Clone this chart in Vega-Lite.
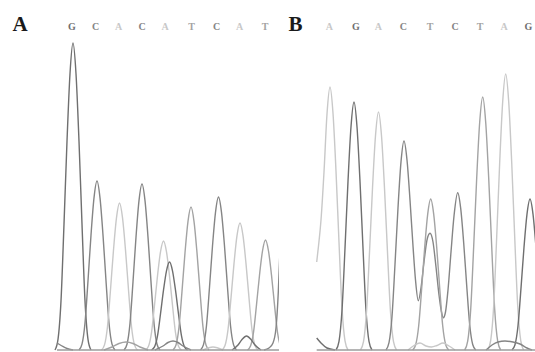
{
  "$schema": "https://vega.github.io/schema/vega-lite/v6.json",
  "padding": 0,
  "spacing": 0,
  "background": "white",
  "config": {"view": {"stroke": null}},
  "datasets": {
    "traceA": [
      {"trace":"a1","base":"G","scan":55,"rfu":0},{"trace":"a1","base":"G","scan":58,"rfu":10.7},{"trace":"a1","base":"G","scan":61,"rfu":49.1},{"trace":"a1","base":"G","scan":64,"rfu":125.9},{"trace":"a1","base":"G","scan":67,"rfu":208.8},{"trace":"a1","base":"G","scan":70,"rfu":276.3},{"trace":"a1","base":"G","scan":73,"rfu":307},{"trace":"a1","base":"G","scan":76,"rfu":276.3},{"trace":"a1","base":"G","scan":79,"rfu":208.8},{"trace":"a1","base":"G","scan":82,"rfu":125.9},{"trace":"a1","base":"G","scan":85,"rfu":49.1},{"trace":"a1","base":"G","scan":88,"rfu":10.7},{"trace":"a1","base":"G","scan":91,"rfu":0},
      {"trace":"a2","base":"C","scan":79,"rfu":0},{"trace":"a2","base":"C","scan":82,"rfu":5.9},{"trace":"a2","base":"C","scan":85,"rfu":27},{"trace":"a2","base":"C","scan":88,"rfu":69.3},{"trace":"a2","base":"C","scan":91,"rfu":114.9},{"trace":"a2","base":"C","scan":94,"rfu":152.1},{"trace":"a2","base":"C","scan":97,"rfu":169},{"trace":"a2","base":"C","scan":100,"rfu":152.1},{"trace":"a2","base":"C","scan":103,"rfu":114.9},{"trace":"a2","base":"C","scan":106,"rfu":69.3},{"trace":"a2","base":"C","scan":109,"rfu":27},{"trace":"a2","base":"C","scan":112,"rfu":5.9},{"trace":"a2","base":"C","scan":115,"rfu":0},
      {"trace":"a3","base":"A","scan":101.5,"rfu":0},{"trace":"a3","base":"A","scan":104.5,"rfu":5.1},{"trace":"a3","base":"A","scan":107.5,"rfu":23.5},{"trace":"a3","base":"A","scan":110.5,"rfu":60.3},{"trace":"a3","base":"A","scan":113.5,"rfu":100},{"trace":"a3","base":"A","scan":116.5,"rfu":132.3},{"trace":"a3","base":"A","scan":119.5,"rfu":147},{"trace":"a3","base":"A","scan":122.5,"rfu":132.3},{"trace":"a3","base":"A","scan":125.5,"rfu":100},{"trace":"a3","base":"A","scan":128.5,"rfu":60.3},{"trace":"a3","base":"A","scan":131.5,"rfu":23.5},{"trace":"a3","base":"A","scan":134.5,"rfu":5.1},{"trace":"a3","base":"A","scan":137.5,"rfu":0},
      {"trace":"a4","base":"C","scan":124,"rfu":0},{"trace":"a4","base":"C","scan":127,"rfu":5.8},{"trace":"a4","base":"C","scan":130,"rfu":26.6},{"trace":"a4","base":"C","scan":133,"rfu":68.1},{"trace":"a4","base":"C","scan":136,"rfu":112.9},{"trace":"a4","base":"C","scan":139,"rfu":149.4},{"trace":"a4","base":"C","scan":142,"rfu":166},{"trace":"a4","base":"C","scan":145,"rfu":149.4},{"trace":"a4","base":"C","scan":148,"rfu":112.9},{"trace":"a4","base":"C","scan":151,"rfu":68.1},{"trace":"a4","base":"C","scan":154,"rfu":26.6},{"trace":"a4","base":"C","scan":157,"rfu":5.8},{"trace":"a4","base":"C","scan":160,"rfu":0},
      {"trace":"a5","base":"A","scan":145.5,"rfu":0},{"trace":"a5","base":"A","scan":148.5,"rfu":3.8},{"trace":"a5","base":"A","scan":151.5,"rfu":17.4},{"trace":"a5","base":"A","scan":154.5,"rfu":44.7},{"trace":"a5","base":"A","scan":157.5,"rfu":74.1},{"trace":"a5","base":"A","scan":160.5,"rfu":98.1},{"trace":"a5","base":"A","scan":163.5,"rfu":109},{"trace":"a5","base":"A","scan":166.5,"rfu":98.1},{"trace":"a5","base":"A","scan":169.5,"rfu":74.1},{"trace":"a5","base":"A","scan":172.5,"rfu":44.7},{"trace":"a5","base":"A","scan":175.5,"rfu":17.4},{"trace":"a5","base":"A","scan":178.5,"rfu":3.8},{"trace":"a5","base":"A","scan":181.5,"rfu":0},
      {"trace":"a5b","base":"G","scan":151.5,"rfu":0},{"trace":"a5b","base":"G","scan":154.5,"rfu":3.1},{"trace":"a5b","base":"G","scan":157.5,"rfu":14.1},{"trace":"a5b","base":"G","scan":160.5,"rfu":36.1},{"trace":"a5b","base":"G","scan":163.5,"rfu":59.8},{"trace":"a5b","base":"G","scan":166.5,"rfu":79.2},{"trace":"a5b","base":"G","scan":169.5,"rfu":88},{"trace":"a5b","base":"G","scan":172.5,"rfu":79.2},{"trace":"a5b","base":"G","scan":175.5,"rfu":59.8},{"trace":"a5b","base":"G","scan":178.5,"rfu":36.1},{"trace":"a5b","base":"G","scan":181.5,"rfu":14.1},{"trace":"a5b","base":"G","scan":184.5,"rfu":3.1},{"trace":"a5b","base":"G","scan":187.5,"rfu":0},
      {"trace":"a6","base":"T","scan":173,"rfu":0},{"trace":"a6","base":"T","scan":176,"rfu":5},{"trace":"a6","base":"T","scan":179,"rfu":22.9},{"trace":"a6","base":"T","scan":182,"rfu":58.6},{"trace":"a6","base":"T","scan":185,"rfu":97.2},{"trace":"a6","base":"T","scan":188,"rfu":128.7},{"trace":"a6","base":"T","scan":191,"rfu":143},{"trace":"a6","base":"T","scan":194,"rfu":128.7},{"trace":"a6","base":"T","scan":197,"rfu":97.2},{"trace":"a6","base":"T","scan":200,"rfu":58.6},{"trace":"a6","base":"T","scan":203,"rfu":22.9},{"trace":"a6","base":"T","scan":206,"rfu":5},{"trace":"a6","base":"T","scan":209,"rfu":0},
      {"trace":"a7","base":"C","scan":200.5,"rfu":0},{"trace":"a7","base":"C","scan":203.5,"rfu":5.4},{"trace":"a7","base":"C","scan":206.5,"rfu":24.5},{"trace":"a7","base":"C","scan":209.5,"rfu":62.7},{"trace":"a7","base":"C","scan":212.5,"rfu":104},{"trace":"a7","base":"C","scan":215.5,"rfu":137.7},{"trace":"a7","base":"C","scan":218.5,"rfu":153},{"trace":"a7","base":"C","scan":221.5,"rfu":137.7},{"trace":"a7","base":"C","scan":224.5,"rfu":104},{"trace":"a7","base":"C","scan":227.5,"rfu":62.7},{"trace":"a7","base":"C","scan":230.5,"rfu":24.5},{"trace":"a7","base":"C","scan":233.5,"rfu":5.4},{"trace":"a7","base":"C","scan":236.5,"rfu":0},
      {"trace":"a8","base":"A","scan":222,"rfu":0},{"trace":"a8","base":"A","scan":225,"rfu":4.4},{"trace":"a8","base":"A","scan":228,"rfu":20.3},{"trace":"a8","base":"A","scan":231,"rfu":52.1},{"trace":"a8","base":"A","scan":234,"rfu":86.4},{"trace":"a8","base":"A","scan":237,"rfu":114.3},{"trace":"a8","base":"A","scan":240,"rfu":127},{"trace":"a8","base":"A","scan":243,"rfu":114.3},{"trace":"a8","base":"A","scan":246,"rfu":86.4},{"trace":"a8","base":"A","scan":249,"rfu":52.1},{"trace":"a8","base":"A","scan":252,"rfu":20.3},{"trace":"a8","base":"A","scan":255,"rfu":4.4},{"trace":"a8","base":"A","scan":258,"rfu":0},
      {"trace":"a9","base":"T","scan":247.5,"rfu":0},{"trace":"a9","base":"T","scan":250.5,"rfu":3.9},{"trace":"a9","base":"T","scan":253.5,"rfu":17.6},{"trace":"a9","base":"T","scan":256.5,"rfu":45.1},{"trace":"a9","base":"T","scan":259.5,"rfu":74.8},{"trace":"a9","base":"T","scan":262.5,"rfu":99},{"trace":"a9","base":"T","scan":265.5,"rfu":110},{"trace":"a9","base":"T","scan":268.5,"rfu":99},{"trace":"a9","base":"T","scan":271.5,"rfu":74.8},{"trace":"a9","base":"T","scan":274.5,"rfu":45.1},{"trace":"a9","base":"T","scan":277.5,"rfu":17.6},{"trace":"a9","base":"T","scan":280.5,"rfu":3.9},{"trace":"a9","base":"T","scan":283.5,"rfu":0},
      {"trace":"a10","base":"C","scan":264,"rfu":0},{"trace":"a10","base":"C","scan":269,"rfu":2},{"trace":"a10","base":"C","scan":273,"rfu":7},{"trace":"a10","base":"C","scan":276,"rfu":22},{"trace":"a10","base":"C","scan":278.3,"rfu":58},{"trace":"a10","base":"C","scan":280,"rfu":100},
      {"trace":"ab1","base":"C","scan":57,"rfu":7},{"trace":"ab1","base":"C","scan":62,"rfu":4},{"trace":"ab1","base":"C","scan":67,"rfu":1.5},{"trace":"ab1","base":"C","scan":73,"rfu":0},
      {"trace":"ab2","base":"T","scan":104,"rfu":0},{"trace":"ab2","base":"T","scan":112,"rfu":3},{"trace":"ab2","base":"T","scan":119,"rfu":6.5},{"trace":"ab2","base":"T","scan":126,"rfu":8},{"trace":"ab2","base":"T","scan":133,"rfu":6.5},{"trace":"ab2","base":"T","scan":140,"rfu":3},{"trace":"ab2","base":"T","scan":148,"rfu":0},
      {"trace":"ab3","base":"C","scan":155,"rfu":0},{"trace":"ab3","base":"C","scan":163,"rfu":4},{"trace":"ab3","base":"C","scan":168,"rfu":7.5},{"trace":"ab3","base":"C","scan":173,"rfu":9},{"trace":"ab3","base":"C","scan":178,"rfu":7.5},{"trace":"ab3","base":"C","scan":183,"rfu":4},{"trace":"ab3","base":"C","scan":191,"rfu":0},
      {"trace":"ab4","base":"G","scan":232,"rfu":0},{"trace":"ab4","base":"G","scan":238,"rfu":5},{"trace":"ab4","base":"G","scan":242,"rfu":10.5},{"trace":"ab4","base":"G","scan":246.5,"rfu":14},{"trace":"ab4","base":"G","scan":251,"rfu":10.5},{"trace":"ab4","base":"G","scan":255,"rfu":5},{"trace":"ab4","base":"G","scan":261,"rfu":0},
      {"trace":"ab5","base":"A","scan":203,"rfu":0},{"trace":"ab5","base":"A","scan":213,"rfu":3},{"trace":"ab5","base":"A","scan":223,"rfu":0},
      {"trace":"abl","base":"N","scan":57,"rfu":0},{"trace":"abl","base":"N","scan":279,"rfu":0}
    ],
    "traceB": [
      {"trace":"b0","base":"G","scan":37.7,"rfu":12},{"trace":"b0","base":"G","scan":42,"rfu":7},{"trace":"b0","base":"G","scan":48,"rfu":2},{"trace":"b0","base":"G","scan":56,"rfu":0},
      {"trace":"b1","base":"A","scan":37.7,"rfu":88},{"trace":"b1","base":"A","scan":39.5,"rfu":104},{"trace":"b1","base":"A","scan":42,"rfu":130},{"trace":"b1","base":"A","scan":45,"rfu":178},{"trace":"b1","base":"A","scan":48,"rfu":236},{"trace":"b1","base":"A","scan":51,"rfu":263},{"trace":"b1","base":"A","scan":54,"rfu":236.7},{"trace":"b1","base":"A","scan":57,"rfu":178.8},{"trace":"b1","base":"A","scan":60,"rfu":107.8},{"trace":"b1","base":"A","scan":63,"rfu":42.1},{"trace":"b1","base":"A","scan":66,"rfu":9.2},{"trace":"b1","base":"A","scan":69,"rfu":0},
      {"trace":"b2","base":"G","scan":57,"rfu":0},{"trace":"b2","base":"G","scan":60,"rfu":8.7},{"trace":"b2","base":"G","scan":63,"rfu":39.7},{"trace":"b2","base":"G","scan":66,"rfu":101.7},{"trace":"b2","base":"G","scan":69,"rfu":168.6},{"trace":"b2","base":"G","scan":72,"rfu":223.2},{"trace":"b2","base":"G","scan":75,"rfu":248},{"trace":"b2","base":"G","scan":78,"rfu":223.2},{"trace":"b2","base":"G","scan":81,"rfu":168.6},{"trace":"b2","base":"G","scan":84,"rfu":101.7},{"trace":"b2","base":"G","scan":87,"rfu":39.7},{"trace":"b2","base":"G","scan":90,"rfu":8.7},{"trace":"b2","base":"G","scan":93,"rfu":0},
      {"trace":"b3","base":"A","scan":81.5,"rfu":0},{"trace":"b3","base":"A","scan":84.5,"rfu":8.3},{"trace":"b3","base":"A","scan":87.5,"rfu":38.1},{"trace":"b3","base":"A","scan":90.5,"rfu":97.6},{"trace":"b3","base":"A","scan":93.5,"rfu":161.8},{"trace":"b3","base":"A","scan":96.5,"rfu":214.2},{"trace":"b3","base":"A","scan":99.5,"rfu":238},{"trace":"b3","base":"A","scan":102.5,"rfu":214.2},{"trace":"b3","base":"A","scan":105.5,"rfu":161.8},{"trace":"b3","base":"A","scan":108.5,"rfu":97.6},{"trace":"b3","base":"A","scan":111.5,"rfu":38.1},{"trace":"b3","base":"A","scan":114.5,"rfu":8.3},{"trace":"b3","base":"A","scan":117.5,"rfu":0},
      {"trace":"b4","base":"C","scan":107,"rfu":0},{"trace":"b4","base":"C","scan":110,"rfu":7.3},{"trace":"b4","base":"C","scan":113,"rfu":33.4},{"trace":"b4","base":"C","scan":116,"rfu":85.7},{"trace":"b4","base":"C","scan":119,"rfu":142.1},{"trace":"b4","base":"C","scan":122,"rfu":188.1},{"trace":"b4","base":"C","scan":125,"rfu":209},{"trace":"b4","base":"C","scan":128,"rfu":190},{"trace":"b4","base":"C","scan":131,"rfu":150},{"trace":"b4","base":"C","scan":134,"rfu":104},{"trace":"b4","base":"C","scan":136.5,"rfu":70},{"trace":"b4","base":"C","scan":139.3,"rfu":49.3},{"trace":"b4","base":"C","scan":142,"rfu":62},{"trace":"b4","base":"C","scan":145,"rfu":88},{"trace":"b4","base":"C","scan":148,"rfu":110},{"trace":"b4","base":"C","scan":151,"rfu":116.7},{"trace":"b4","base":"C","scan":154,"rfu":108},{"trace":"b4","base":"C","scan":157,"rfu":83},{"trace":"b4","base":"C","scan":160,"rfu":55},{"trace":"b4","base":"C","scan":162.5,"rfu":38},{"trace":"b4","base":"C","scan":164.3,"rfu":32.3},{"trace":"b4","base":"C","scan":166.5,"rfu":38},{"trace":"b4","base":"C","scan":169,"rfu":60},{"trace":"b4","base":"C","scan":172,"rfu":98},{"trace":"b4","base":"C","scan":175,"rfu":134},{"trace":"b4","base":"C","scan":178.7,"rfu":157.3},{"trace":"b4","base":"C","scan":181.7,"rfu":141.6},{"trace":"b4","base":"C","scan":184.7,"rfu":107},{"trace":"b4","base":"C","scan":187.7,"rfu":64.5},{"trace":"b4","base":"C","scan":190.7,"rfu":25.2},{"trace":"b4","base":"C","scan":193.7,"rfu":5.5},{"trace":"b4","base":"C","scan":196.7,"rfu":0},
      {"trace":"b5","base":"T","scan":133.7,"rfu":0},{"trace":"b5","base":"T","scan":136.7,"rfu":5.3},{"trace":"b5","base":"T","scan":139.7,"rfu":24.2},{"trace":"b5","base":"T","scan":142.7,"rfu":61.9},{"trace":"b5","base":"T","scan":145.7,"rfu":102.7},{"trace":"b5","base":"T","scan":148.7,"rfu":135.9},{"trace":"b5","base":"T","scan":151.7,"rfu":151},{"trace":"b5","base":"T","scan":154.7,"rfu":135.9},{"trace":"b5","base":"T","scan":157.7,"rfu":102.7},{"trace":"b5","base":"T","scan":160.7,"rfu":61.9},{"trace":"b5","base":"T","scan":163.7,"rfu":24.2},{"trace":"b5","base":"T","scan":166.7,"rfu":5.3},{"trace":"b5","base":"T","scan":169.7,"rfu":0},
      {"trace":"b7","base":"T","scan":185.7,"rfu":0},{"trace":"b7","base":"T","scan":188.7,"rfu":8.9},{"trace":"b7","base":"T","scan":191.7,"rfu":40.5},{"trace":"b7","base":"T","scan":194.7,"rfu":103.7},{"trace":"b7","base":"T","scan":197.7,"rfu":172},{"trace":"b7","base":"T","scan":200.7,"rfu":227.7},{"trace":"b7","base":"T","scan":203.7,"rfu":253},{"trace":"b7","base":"T","scan":206.7,"rfu":227.7},{"trace":"b7","base":"T","scan":209.7,"rfu":172},{"trace":"b7","base":"T","scan":212.7,"rfu":103.7},{"trace":"b7","base":"T","scan":215.7,"rfu":40.5},{"trace":"b7","base":"T","scan":218.7,"rfu":8.9},{"trace":"b7","base":"T","scan":221.7,"rfu":0},
      {"trace":"b8","base":"A","scan":208.7,"rfu":0},{"trace":"b8","base":"A","scan":211.7,"rfu":9.7},{"trace":"b8","base":"A","scan":214.7,"rfu":44.2},{"trace":"b8","base":"A","scan":217.7,"rfu":113.2},{"trace":"b8","base":"A","scan":220.7,"rfu":187.7},{"trace":"b8","base":"A","scan":223.7,"rfu":248.4},{"trace":"b8","base":"A","scan":226.7,"rfu":276},{"trace":"b8","base":"A","scan":229.7,"rfu":248.4},{"trace":"b8","base":"A","scan":232.7,"rfu":187.7},{"trace":"b8","base":"A","scan":235.7,"rfu":113.2},{"trace":"b8","base":"A","scan":238.7,"rfu":44.2},{"trace":"b8","base":"A","scan":241.7,"rfu":9.7},{"trace":"b8","base":"A","scan":244.7,"rfu":0},
      {"trace":"b9","base":"G","scan":233,"rfu":0},{"trace":"b9","base":"G","scan":236,"rfu":5.3},{"trace":"b9","base":"G","scan":239,"rfu":24.2},{"trace":"b9","base":"G","scan":242,"rfu":61.9},{"trace":"b9","base":"G","scan":245,"rfu":102.7},{"trace":"b9","base":"G","scan":248,"rfu":135.9},{"trace":"b9","base":"G","scan":251,"rfu":151},{"trace":"b9","base":"G","scan":254,"rfu":135.9},{"trace":"b9","base":"G","scan":257,"rfu":102.7},{"trace":"b9","base":"G","scan":260,"rfu":61.9},
      {"trace":"bb1","base":"A","scan":129,"rfu":0},{"trace":"bb1","base":"A","scan":135,"rfu":4.5},{"trace":"bb1","base":"A","scan":141,"rfu":7},{"trace":"bb1","base":"A","scan":147,"rfu":4},{"trace":"bb1","base":"A","scan":152.5,"rfu":3},{"trace":"bb1","base":"A","scan":158,"rfu":4.5},{"trace":"bb1","base":"A","scan":164,"rfu":7},{"trace":"bb1","base":"A","scan":170,"rfu":4},{"trace":"bb1","base":"A","scan":176,"rfu":0},
      {"trace":"bb2","base":"C","scan":207,"rfu":0},{"trace":"bb2","base":"C","scan":213,"rfu":5},{"trace":"bb2","base":"C","scan":219,"rfu":8},{"trace":"bb2","base":"C","scan":226,"rfu":9},{"trace":"bb2","base":"C","scan":234,"rfu":8},{"trace":"bb2","base":"C","scan":241,"rfu":6},{"trace":"bb2","base":"C","scan":248,"rfu":2},{"trace":"bb2","base":"C","scan":253,"rfu":0},
      {"trace":"bbl","base":"N","scan":37.7,"rfu":0},{"trace":"bbl","base":"N","scan":256,"rfu":0}
    ],
    "callsA": [
      {"base":"G","scan":72},{"base":"C","scan":95.5},{"base":"A","scan":118.5},{"base":"C","scan":142},{"base":"A","scan":165},{"base":"T","scan":191.5},{"base":"C","scan":216.5},{"base":"A","scan":239.5},{"base":"T","scan":265}
    ],
    "callsB": [
      {"base":"A","scan":50.3},{"base":"G","scan":77},{"base":"A","scan":99.3},{"base":"C","scan":124.3},{"base":"T","scan":151},{"base":"C","scan":176},{"base":"T","scan":201},{"base":"A","scan":225},{"base":"G","scan":249.3}
    ]
  },
  "hconcat": [
    {
      "width": 279,
      "height": 352,
      "layer": [
        {
          "data": {"name": "traceA"},
          "mark": {"type": "line", "interpolate": "monotone", "strokeWidth": 1.4, "clip": true},
          "encoding": {
            "x": {"field": "scan", "type": "quantitative", "scale": {"domain": [0, 279], "nice": false, "zero": false}, "axis": null},
            "y": {"field": "rfu", "type": "quantitative", "scale": {"domain": [-2, 350], "nice": false, "zero": false}, "axis": null},
            "detail": {"field": "trace"},
            "color": {"field": "base", "type": "nominal", "scale": {"domain": ["G", "C", "A", "T", "N"], "range": ["#6f6f6f", "#858585", "#c8c8c8", "#a3a3a3", "#9c9c9c"]}, "legend": null}
          }
        },
        {
          "data": {"name": "callsA"},
          "mark": {"type": "text", "font": "Liberation Serif", "fontWeight": "bold", "fontSize": 10, "baseline": "middle", "align": "center"},
          "encoding": {
            "x": {"field": "scan", "type": "quantitative"},
            "y": {"datum": 323},
            "text": {"field": "base"},
            "color": {"field": "base", "type": "nominal", "legend": null}
          }
        },
        {
          "data": {"values": [{"panel": "A"}]},
          "mark": {"type": "text", "font": "Liberation Serif", "fontWeight": "bold", "fontSize": 21, "baseline": "middle", "align": "center", "color": "#1a1a1a"},
          "encoding": {
            "x": {"datum": 20},
            "y": {"datum": 325},
            "text": {"field": "panel"}
          }
        }
      ]
    },
    {
      "width": 256,
      "height": 352,
      "layer": [
        {
          "data": {"name": "traceB"},
          "mark": {"type": "line", "interpolate": "monotone", "strokeWidth": 1.4, "clip": true},
          "encoding": {
            "x": {"field": "scan", "type": "quantitative", "scale": {"domain": [0, 256], "nice": false, "zero": false}, "axis": null},
            "y": {"field": "rfu", "type": "quantitative", "scale": {"domain": [-2, 350], "nice": false, "zero": false}, "axis": null},
            "detail": {"field": "trace"},
            "color": {"field": "base", "type": "nominal", "scale": {"domain": ["G", "C", "A", "T", "N"], "range": ["#6f6f6f", "#858585", "#c8c8c8", "#a3a3a3", "#9c9c9c"]}, "legend": null}
          }
        },
        {
          "data": {"name": "callsB"},
          "mark": {"type": "text", "font": "Liberation Serif", "fontWeight": "bold", "fontSize": 10, "baseline": "middle", "align": "center"},
          "encoding": {
            "x": {"field": "scan", "type": "quantitative"},
            "y": {"datum": 323},
            "text": {"field": "base"},
            "color": {"field": "base", "type": "nominal", "legend": null}
          }
        },
        {
          "data": {"values": [{"panel": "B"}]},
          "mark": {"type": "text", "font": "Liberation Serif", "fontWeight": "bold", "fontSize": 21, "baseline": "middle", "align": "center", "color": "#1a1a1a"},
          "encoding": {
            "x": {"datum": 16.5},
            "y": {"datum": 325},
            "text": {"field": "panel"}
          }
        }
      ]
    }
  ]
}
